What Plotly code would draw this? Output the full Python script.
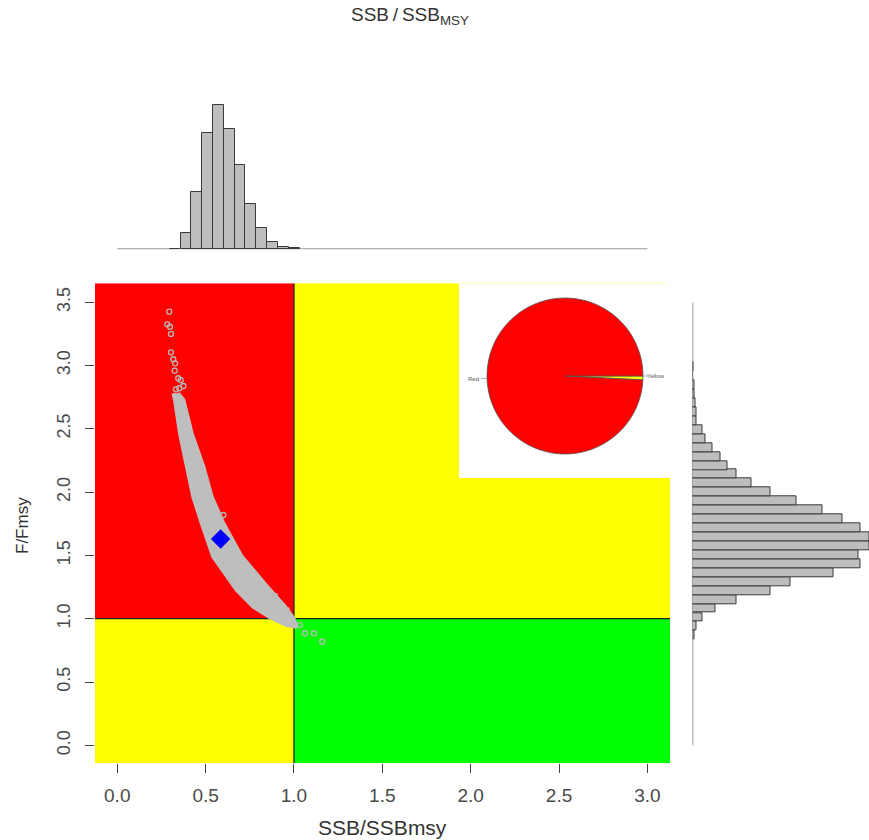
import plotly.graph_objects as go

# ---------------- data ----------------
# Kobe quadrant limits
x_ticks = [0.0, 0.5, 1.0, 1.5, 2.0, 2.5, 3.0]
y_ticks = [0.0, 0.5, 1.0, 1.5, 2.0, 2.5, 3.0, 3.5]
x_range = [-0.126, 3.128]
y_range = [-0.142, 3.649]
ref_point = 1.0

# cloud of posterior points (outline of dense band)
band_left_x = [0.318, 0.327, 0.355, 0.393, 0.430, 0.478, 0.543, 0.676, 0.770, 0.874, 0.960, 1.015]
band_left_y = [2.780, 2.727, 2.464, 2.201, 1.964, 1.754, 1.490, 1.227, 1.095, 1.003, 0.950, 0.937]
band_right_x = [1.015, 0.996, 0.949, 0.864, 0.704, 0.600, 0.534, 0.487, 0.421, 0.374, 0.343]
band_right_y = [0.937, 1.003, 1.095, 1.227, 1.490, 1.754, 1.964, 2.201, 2.464, 2.727, 2.780]

# sparse points outside the dense band
pts_x = [0.294, 0.283, 0.298, 0.304, 0.304, 0.317, 0.327, 0.325, 0.345, 0.359, 0.374, 0.332, 0.351,
         1.033, 1.062, 1.113, 1.160, 0.892, 0.959, 0.600, 0.647]
pts_y = [3.425, 3.325, 3.306, 3.249, 3.104, 3.049, 3.017, 2.959, 2.899, 2.885, 2.838, 2.812, 2.820,
         0.950, 0.885, 0.885, 0.818, 1.180, 1.069, 1.819, 1.319]

# current estimate
est_x = [0.585]
est_y = [1.630]

# marginal histogram of SSB/SSBmsy (top)
ssb_bins = [0.327, 0.389, 0.450, 0.511, 0.572, 0.634, 0.695, 0.756, 0.817, 0.878, 0.940, 1.001]
ssb_freq = [0.5, 16, 57, 116, 144, 120, 84, 45, 21, 7.6, 2, 1]

# marginal histogram of F/Fmsy (right)
f_bins = [0.870, 0.941, 1.011, 1.082, 1.152, 1.223, 1.294, 1.364, 1.435, 1.505, 1.576, 1.646,
          1.717, 1.788, 1.858, 1.929, 1.999, 2.070, 2.141, 2.211, 2.282, 2.352, 2.423, 2.494,
          2.564, 2.635, 2.705, 2.776, 2.847, 2.917, 2.988]
f_freq = [2, 4.3, 10.3, 22.7, 44, 77.7, 98.3, 141.3, 168.3, 166.3, 176.7, 176.7, 167.7, 149.7,
          129.7, 104.3, 77.7, 59, 44, 35, 27.7, 19.7, 12.7, 10.3, 4.3, 4, 3.3, 2, 1.5, 0, 0.8]

# pie of quadrant probabilities
pie_labels = ["Yellow", "Red"]
pie_values = [0.8, 99.2]
pie_colors = ["#FFFF00", "#FF0000"]

# inset (white background) lower-left corner in data units
inset_x0 = 1.934
inset_y0 = 2.111

# ---------------- layout constants ----------------
W, H = 869, 840
def px_x(p):
    return p / W
def px_y(p):
    return (H - p) / H

main_xdom = [px_x(95), px_x(670)]
main_ydom = [px_y(763.3), px_y(283.3)]
top_ydom = [px_y(249.3), px_y(100)]
right_xdom = [px_x(692.5), 1.0]

FONT = "Liberation Sans, Arial, sans-serif"
tick_font = dict(family=FONT, size=19, color="#4a4a4a")
ytick_font = dict(family=FONT, size=18, color="#4a4a4a")
gray_fill = "#BEBEBE"
bar_line = "#3a3a3a"

fig = go.Figure()

# dense band
fig.add_trace(go.Scatter(
    x=band_left_x + band_right_x, y=band_left_y + band_right_y,
    mode="lines", fill="toself", fillcolor=gray_fill,
    line=dict(color=gray_fill, width=4), hoverinfo="skip", showlegend=False,
    xaxis="x", yaxis="y"))
# sparse points
fig.add_trace(go.Scatter(
    x=pts_x, y=pts_y, mode="markers",
    marker=dict(symbol="circle-open", size=5, color="#B8B8B8", line=dict(width=1.3)),
    showlegend=False, xaxis="x", yaxis="y"))
# estimate
fig.add_trace(go.Scatter(
    x=est_x, y=est_y, mode="markers",
    marker=dict(symbol="diamond", size=15, color="#0000FF"),
    showlegend=False, xaxis="x", yaxis="y"))

# top histogram
fig.add_trace(go.Bar(
    x=ssb_bins, y=ssb_freq, width=0.0612,
    marker=dict(color=gray_fill, line=dict(color=bar_line, width=1)),
    showlegend=False, xaxis="x2", yaxis="y2"))

# right histogram
fig.add_trace(go.Bar(
    y=f_bins, x=f_freq, orientation="h", width=0.0706,
    marker=dict(color=gray_fill, line=dict(color=bar_line, width=1)),
    showlegend=False, xaxis="x3", yaxis="y3"))

# pie
fig.add_trace(go.Pie(
    labels=pie_labels, values=pie_values, sort=False,
    direction="counterclockwise", rotation=90,
    marker=dict(colors=pie_colors, line=dict(color="#555555", width=0.8)),
    textinfo="none", hoverinfo="label+percent", showlegend=False,
    domain=dict(x=[px_x(487), px_x(643)], y=[px_y(454), px_y(298)])))

shapes = []
# quadrant backgrounds
shapes.append(dict(type="rect", xref="x", yref="y", x0=x_range[0], x1=ref_point, y0=ref_point, y1=y_range[1],
                   fillcolor="#FF0000", line=dict(width=0), layer="below"))
shapes.append(dict(type="rect", xref="x", yref="y", x0=ref_point, x1=x_range[1], y0=ref_point, y1=y_range[1],
                   fillcolor="#FFFF00", line=dict(width=0), layer="below"))
shapes.append(dict(type="rect", xref="x", yref="y", x0=x_range[0], x1=ref_point, y0=y_range[0], y1=ref_point,
                   fillcolor="#FFFF00", line=dict(width=0), layer="below"))
shapes.append(dict(type="rect", xref="x", yref="y", x0=ref_point, x1=x_range[1], y0=y_range[0], y1=ref_point,
                   fillcolor="#00FF00", line=dict(width=0), layer="below"))
# inset background
shapes.append(dict(type="rect", xref="x", yref="y", x0=inset_x0, x1=x_range[1], y0=inset_y0, y1=y_range[1],
                   fillcolor="#FFFFFF", line=dict(width=0), layer="below"))
# reference lines
shapes.append(dict(type="line", xref="x", yref="y", x0=x_range[0], x1=x_range[1], y0=ref_point, y1=ref_point,
                   line=dict(color="#222222", width=1.3), layer="below"))
shapes.append(dict(type="line", xref="x", yref="y", x0=ref_point, x1=ref_point, y0=y_range[0], y1=y_range[1],
                   line=dict(color="#222222", width=1.3), layer="below"))
# histogram baselines
shapes.append(dict(type="line", xref="x2", yref="y2", x0=min(x_ticks), x1=max(x_ticks), y0=0, y1=0,
                   line=dict(color="#9a9a9a", width=2.2), layer="below"))
shapes.append(dict(type="line", xref="x3", yref="y3", x0=0, x1=0, y0=min(y_ticks), y1=max(y_ticks),
                   line=dict(color="#8a8a8a", width=1.6), layer="below"))
# pie label leader lines
shapes.append(dict(type="line", xref="paper", yref="paper", x0=px_x(481), x1=px_x(487), y0=px_y(378.5), y1=px_y(378.5),
                   line=dict(color="#999999", width=0.8)))
shapes.append(dict(type="line", xref="paper", yref="paper", x0=px_x(643), x1=px_x(648), y0=px_y(376), y1=px_y(376),
                   line=dict(color="#999999", width=0.8)))

def ann(text, x, y, size, color="#333333", angle=0):
    return dict(text=text, x=px_x(x), y=px_y(y), xref="paper", yref="paper",
                xanchor="center", yanchor="middle", textangle=angle,
                showarrow=False, font=dict(family=FONT, size=size, color=color))

annotations = [
    ann("SSB\u2009/\u2009SSB<sub>MSY</sub>", 410, 16, 19),
    ann("SSB/SSBmsy", 382, 827, 21),
    ann("F/Fmsy", 22, 526, 17, angle=-90),
    ann("Red", 474, 379, 6, color="#555555"),
    ann("Yellow", 656, 376, 6, color="#555555"),
]

fig.update_layout(
    width=W, height=H, margin=dict(l=0, r=0, t=0, b=0),
    paper_bgcolor="white", plot_bgcolor="rgba(0,0,0,0)",
    bargap=0, showlegend=False,
    shapes=shapes, annotations=annotations,
    xaxis=dict(domain=main_xdom, range=x_range, tickvals=x_ticks, ticktext=[f"{v:.1f}" for v in x_ticks],
               ticks="outside", ticklen=9, tickcolor="#444444", tickwidth=1.2, showgrid=False,
               zeroline=False, showline=False, tickfont=tick_font, automargin=False, anchor="y",
               ticklabelstandoff=6),
    yaxis=dict(domain=main_ydom, range=y_range, tickvals=y_ticks, ticktext=[f"{v:.1f}" for v in y_ticks],
               ticks="outside", ticklen=9, tickcolor="#444444", tickwidth=1.2, showgrid=False,
               zeroline=False, showline=False, tickfont=ytick_font, tickangle=-90, automargin=False,
               anchor="x", ticklabelstandoff=8),
    xaxis2=dict(domain=main_xdom, range=x_range, visible=False, anchor="y2"),
    yaxis2=dict(domain=top_ydom, range=[0, 149.3], visible=False, anchor="x2"),
    xaxis3=dict(domain=right_xdom, range=[0, 176.5], visible=False, anchor="y3"),
    yaxis3=dict(domain=main_ydom, range=y_range, visible=False, anchor="x3"),
)

fig.write_html("out.html", config={"displayModeBar": False})

# remove default page margin so the figure sits at the window origin
with open("out.html", "r", encoding="utf-8") as f:
    html = f.read()
html = html.replace("<head>", "<head><style>html,body{margin:0;padding:0;overflow:hidden;}</style>", 1)
with open("out.html", "w", encoding="utf-8") as f:
    f.write(html)
